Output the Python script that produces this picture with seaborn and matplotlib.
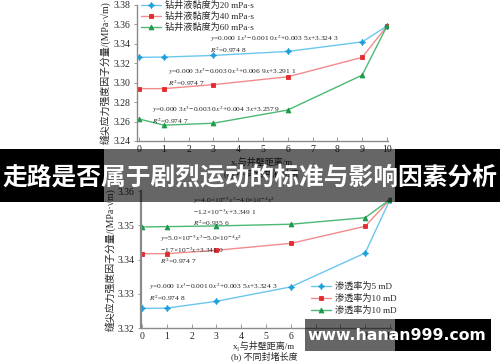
import numpy as np
import pandas as pd
import matplotlib
matplotlib.use("Agg")
import matplotlib.pyplot as plt
from matplotlib.patches import Rectangle
import seaborn as sns

# distance from well wall (m)
dist = [0, 1, 3, 6, 9, 10]

# (a) different drilling fluid viscosity
visc_labels = ["钻井液黏度为20 mPa·s", "钻井液黏度为40 mPa·s", "钻井液黏度为60 mPa·s"]
visc_20 = [3.3261, 3.3264, 3.3281, 3.3322, 3.3420, 3.3583]
visc_40 = [3.2939, 3.2939, 3.2980, 3.3061, 3.3261, 3.3583]
visc_60 = [3.2627, 3.2563, 3.2583, 3.2719, 3.3078, 3.3583]

# (b) different permeability
perm_labels = ["渗透率为5 mD", "渗透率为10 mD", "渗透率为10 mD"]
perm_5 = [3.3257, 3.3258, 3.3278, 3.3320, 3.3419, 3.3575]
perm_10a = [3.3417, 3.3417, 3.3427, 3.3447, 3.3497, 3.3575]
perm_10b = [3.3495, 3.3496, 3.3498, 3.3503, 3.3522, 3.3575]

fit_a = [r"$y$=0.000 1$x^3$−0.001 0$x^2$+0.003 5$x$+3.324 3" + "\n" + r"$R^2$=0.974 8",
         r"$y$=0.000 3$x^3$−0.003 0$x^2$+0.006 9$x$+3.291 1" + "\n" + r"$R^2$=0.974 7",
         r"$y$=0.000 3$x^3$−0.003 0$x^2$+0.004 3$x$+3.257 9" + "\n" + r"$R^2$=0.974 7"]
fit_b = [r"$y$=4.0×10$^{-5}$$x^3$−4.0×10$^{-4}$$x^2$" + "\n" + r"−1.2×10$^{-3}$$x$+3.349 1" + "\n" + r"$R^2$=0.935 6",
         r"$y$=5.0×10$^{-5}$$x^3$−5.0×10$^{-4}$$x^2$" + "\n" + r"−1.7×10$^{-3}$$x$+3.341.0" + "\n" + r"$R^2$=0.974 7",
         r"$y$=0.000 1$x^3$−0.001 0$x^2$+0.003 5$x$+3.324 3" + "\n" + r"$R^2$=0.974 8"]

xlab = "x₁与井壁距离/m"
ylab = "缝尖应力强度因子分量/(MPa·√m)"
sub_a = "(a) 不同钻井液黏度"
sub_b = "(b) 不同封堵长度"
title = "走路是否属于剧烈运动的标准与影响因素分析"
site = "www.hanan999.com"

sns.set_style("ticks")
plt.rcParams['font.family'] = ['Liberation Serif', 'Noto Sans CJK SC', 'DejaVu Sans']
plt.rcParams['mathtext.fontset'] = 'stix'
plt.rcParams['axes.unicode_minus'] = True

line_cols = ["#6cc6ee", "#f28b8b", "#4cb873"]
mark_cols = ["#1a9fdb", "#e32a2f", "#1c9a4c"]
markers = [(4, 1, 0), "s", "^"]

W, H = 500, 362
fig = plt.figure(figsize=(5.0, 3.62), dpi=100)


def px_axes(x0, x1, ytop, ybot):
    return fig.add_axes([x0 / W, 1 - ybot / H, (x1 - x0) / W, (ybot - ytop) / H])


def style_axes(ax):
    sns.despine(ax=ax)
    for s in ["left", "bottom"]:
        ax.spines[s].set_color("#8a8a8a")
        ax.spines[s].set_linewidth(1.0)
    ax.tick_params(axis="x", direction="in", length=3, width=0.6, color="#8a8a8a",
                   labelsize=7, pad=3)
    ax.tick_params(axis="y", direction="out", length=2.5, width=0.6, color="#8a8a8a",
                   labelsize=7, pad=2)
    ax.set_xticks(range(0, 11))


def draw(ax, series, labels):
    for i, (ys, lab) in enumerate(zip(series, labels)):
        sns.lineplot(x=dist, y=ys, ax=ax, color=line_cols[i], lw=1.0,
                     marker=markers[i], markersize=3.5 if i else 4.5,
                     markerfacecolor=mark_cols[i], markeredgecolor=mark_cols[i],
                     markeredgewidth=0.6, label=lab)


def ftext(x, y, s, **kw):
    return fig.text(x / W, 1 - y / H, s, **kw)


# ---- panel (a)
ax1 = px_axes(136.5, 388.2, 5, 141)
draw(ax1, [visc_20, visc_40, visc_60], visc_labels)
ax1.set_xlim(-0.1, 10.05)
ax1.set_ylim(3.24, 3.38)
ax1.set_yticks(np.arange(3.24, 3.381, 0.02))
ax1.set_yticklabels([f"{v:.2f}" for v in np.arange(3.24, 3.381, 0.02)])
style_axes(ax1)
ax1.set_ylabel(ylab, fontsize=7.1, labelpad=1.5)
ax1.legend(loc="upper left", bbox_to_anchor=(141 / W, 1 - 1 / H), bbox_transform=fig.transFigure,
           frameon=False, fontsize=6.6, borderpad=0, borderaxespad=0, handlelength=2.2,
           handletextpad=0.4, labelspacing=0.2)
ftext(262, 162, xlab, fontsize=6.5, ha="center", va="center")
ftext(262, 173, sub_a, fontsize=6.5, ha="center", va="center")

# ---- panel (b)
ax2 = px_axes(140.8, 391.2, 191, 328)
draw(ax2, [perm_5, perm_10a, perm_10b], perm_labels)
ax2.set_xlim(-0.05, 10.05)
ax2.set_ylim(3.32, 3.36)
ax2.set_yticks(np.arange(3.32, 3.361, 0.01))
ax2.set_yticklabels([f"{v:.2f}" for v in np.arange(3.32, 3.361, 0.01)])
style_axes(ax2)
ax2.spines["left"].set_linewidth(1.6)
ax2.set_ylabel(ylab, fontsize=7.1, labelpad=1.5)
ax2.legend(loc="upper left", bbox_to_anchor=(311 / W, 1 - 282 / H), bbox_transform=fig.transFigure,
           frameon=False, fontsize=6.6, borderpad=0, borderaxespad=0, handlelength=2.2,
           handletextpad=0.4, labelspacing=0.3)
ftext(264, 346, xlab, fontsize=6.5, ha="center", va="center")
ftext(264, 356, sub_b, fontsize=6.5, ha="center", va="center")

# fit equations
for (x, y), t in zip([(210, 33), (168, 66), (152, 104)], fit_a):
    ftext(x, y, t, fontsize=5.4, va="top", ha="left", linespacing=1.2, color="#222222")
for (x, y), t in zip([(193, 195), (160, 233), (149, 281)], fit_b):
    ftext(x, y, t, fontsize=5.4, va="top", ha="left", linespacing=1.2, color="#222222")

# ---- overlay banner and watermark
def box(x0, x1, y0, y1, alpha):
    fig.add_artist(Rectangle((x0 / W, 1 - y1 / H), (x1 - x0) / W, (y1 - y0) / H,
                             transform=fig.transFigure, facecolor="black", edgecolor="none",
                             alpha=alpha, zorder=10))

box(0, 104, 149, 202, 1.0)
box(104, 395, 149, 202, 0.6)
box(395, 500, 149, 202, 1.0)
box(305, 395, 319, 351, 0.6)
box(395, 491, 319, 351, 1.0)

ftext(250, 177, title, color="white", fontsize=17.8, fontweight="bold",
      family=["Noto Sans CJK SC", "DejaVu Sans"], ha="center", va="center", zorder=11)
ftext(397, 335, site, color="white", fontsize=11.3, fontweight="bold",
      family=["DejaVu Sans"], ha="center", va="center", zorder=11)

fig.savefig("out.png", dpi=100)
